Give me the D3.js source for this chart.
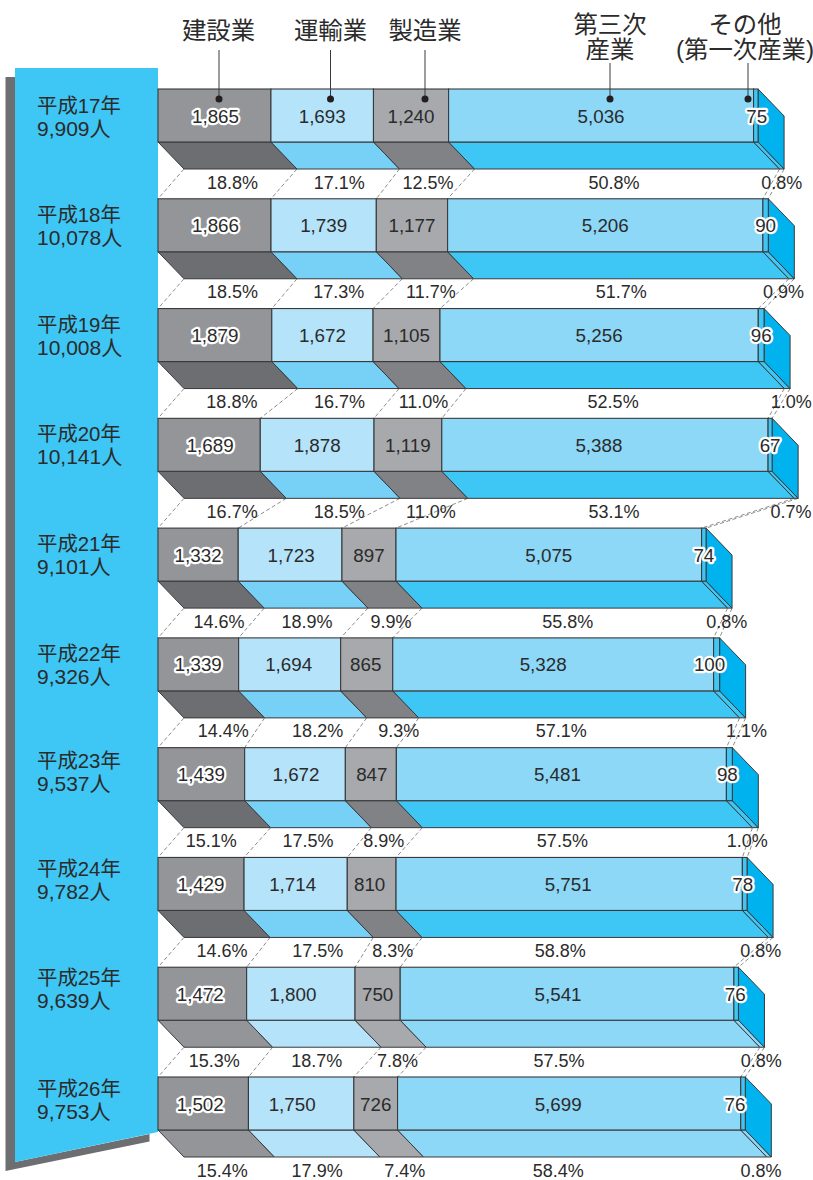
<!DOCTYPE html>
<html>
<head>
<meta charset="utf-8">
<script src="https://cdn.jsdelivr.net/npm/d3@7"></script>
<style>
body{margin:0;background:#fff}
text{font-family:"Liberation Sans","Noto Sans CJK JP",sans-serif;fill:#2b2b2b}
</style>
</head>
<body>
<script>
// values
const years = ['平成17年','平成18年','平成19年','平成20年','平成21年','平成22年','平成23年','平成24年','平成25年','平成26年'];
const totals = ['9,909人','10,078人','10,008人','10,141人','9,101人','9,326人','9,537人','9,782人','9,639人','9,753人'];
const construction  = [1865,1866,1879,1689,1332,1339,1439,1429,1472,1502];
const transport     = [1693,1739,1672,1878,1723,1694,1672,1714,1800,1750];
const manufacturing = [1240,1177,1105,1119,897,865,847,810,750,726];
const tertiary      = [5036,5206,5256,5388,5075,5328,5481,5751,5541,5699];
const other         = [75,90,96,67,74,100,98,78,76,76];
const constructionPct  = ['18.8','18.5','18.8','16.7','14.6','14.4','15.1','14.6','15.3','15.4'];
const transportPct     = ['17.1','17.3','16.7','18.5','18.9','18.2','17.5','17.5','18.7','17.9'];
const manufacturingPct = ['12.5','11.7','11.0','11.0','9.9','9.3','8.9','8.3','7.8','7.4'];
const tertiaryPct      = ['50.8','51.7','52.5','53.1','55.8','57.1','57.5','58.8','57.5','58.4'];
const otherPct         = ['0.8','0.9','1.0','0.7','0.8','1.1','1.0','0.8','0.8','0.8'];

const series = [construction, transport, manufacturing, tertiary, other];
const pcts = [constructionPct, transportPct, manufacturingPct, tertiaryPct, otherPct];

// styles and hand placed label offsets
const frontColors = ['#939598','#b5e3fa','#a7a9ac','#8dd7f7','#3ec6f4'];
const floorDark   = ['#6d6e71','#77d0f5','#808285','#3ec6f4','#3ec6f4'];
const floorLight  = ['#939598','#b5e3fa','#a7a9ac','#8dd7f7','#8dd7f7'];
const sideColor = '#00b3ee';
const halo = [true,false,false,false,true];
const valueNudge = [
  [1,0,0,0,1],[1,0,0,0,0],[0,0,0,0,0],[1,0,0,-6,0],[0,1,0,0,0],
  [0,-1,-1,-10,-7],[0,1,1,-4,-2],[0,-3,-2,-1,-2],[-2,-8,0,-9,-1],[-3,-9,0,-11,-8]
];
const pctNudge = [
  [18,17,17,13,26],[18,15,19,16,18],[17,17,17,14,30],[23,22,23,9,21],[21,17,22,19,23],
  [25,28,32,8,30],[10,13,13,1,18],[21,22,21,-9,16],[12,16,20,-8,25],[19,16,29,-11,18]
];
const yearNudge = [1,0,0,0,0,0,-3,-4,-5,-4];

const width = 813, height = 1180;
const depthX = 26, depthY = 27, frontH = 53;

// the first four rows are drawn a little wider in the original
const xUpper = d3.scaleLinear().domain([0,10000]).range([158,763.6]);
const xLower = d3.scaleLinear().domain([0,10000]).range([158,760.2]);
const xFor = row => row < 4 ? xUpper : xLower;
const y = d3.scalePoint().domain(years).range([89,1077]);

const svg = d3.select('body').append('svg')
  .attr('width', width)
  .attr('height', height)
  .style('display','block');

// banner on the left
const poly = d3.line();
svg.append('path')
  .attr('d', poly([[5.5,77],[15,77],[15,1162],[149.5,1134],[149.5,1141.5],[5.5,1171]]) + 'Z')
  .attr('fill', '#6d6e71');
svg.append('path')
  .attr('d', poly([[15,68],[158,68],[158,1132],[15,1162]]) + 'Z')
  .attr('fill', '#3ec6f4');

const edges = series[0].map((_, row) => {
  let sum = 0;
  const e = [0];
  series.forEach(s => { sum += s[row]; e.push(sum); });
  return e;
});

// dashed lines from one row's floor to the next row's front
const dashes = svg.append('g');
years.slice(0,-1).forEach((yr, row) => {
  edges[row].forEach((v, k) => {
    dashes.append('line')
      .attr('x1', xFor(row)(v) + depthX)
      .attr('y1', y(yr) + frontH + depthY)
      .attr('x2', xFor(row+1)(edges[row+1][k]))
      .attr('y2', y(years[row+1]))
      .attr('stroke', '#6d6e71')
      .attr('stroke-width', 0.8)
      .attr('stroke-dasharray', '4,2.5');
  });
});

years.forEach((yr, row) => {
  const top = y(yr);
  const g = svg.append('g');
  const e = edges[row];
  const x = xFor(row);
  const floors = row >= 8 ? floorLight : floorDark;
  const edge = '#3a3a3c';

  // floor
  series.forEach((s, k) => {
    const a = x(e[k]), b = x(e[k+1]);
    g.append('path')
      .attr('d', poly([[a,top+frontH],[b,top+frontH],[b+depthX,top+frontH+depthY],[a+depthX,top+frontH+depthY]]) + 'Z')
      .attr('fill', floors[k])
      .attr('stroke', edge)
      .attr('stroke-width', 1);
  });

  // side of the block
  const end = x(e[5]);
  g.append('path')
    .attr('d', poly([[end,top],[end+depthX,top+depthY],[end+depthX,top+frontH+depthY],[end,top+frontH]]) + 'Z')
    .attr('fill', sideColor)
    .attr('stroke', edge)
    .attr('stroke-width', 1);

  // front
  g.selectAll('rect')
    .data(series)
    .enter()
    .append('rect')
    .attr('x', (d,k) => x(e[k]))
    .attr('y', top)
    .attr('width', (d,k) => x(e[k+1]) - x(e[k]))
    .attr('height', frontH)
    .attr('fill', (d,k) => frontColors[k])
    .attr('stroke', edge)
    .attr('stroke-width', 1.1);

  // value labels
  series.forEach((s, k) => {
    const mid = (x(e[k]) + x(e[k+1])) / 2;
    const t = g.append('text')
      .attr('x', mid + valueNudge[row][k])
      .attr('y', top + 33.5)
      .attr('text-anchor', 'middle')
      .attr('font-size', 18.8)
      .text(d3.format(',')(s[row]));
    if (halo[k]) {
      t.style('paint-order','stroke')
        .attr('stroke','#fff')
        .attr('stroke-width',4.5)
        .attr('stroke-linejoin','round');
    }
    svg.append('text')
      .attr('x', mid + pctNudge[row][k])
      .attr('y', top + 99.5)
      .attr('text-anchor', 'middle')
      .attr('font-size', 18)
      .text(pcts[k][row] + '%');
  });

  svg.append('text')
    .attr('x', 37)
    .attr('y', top + 23 + yearNudge[row])
    .attr('font-size', 20.4)
    .text(yr);
  svg.append('text')
    .attr('x', 37)
    .attr('y', top + 46 + yearNudge[row])
    .attr('font-size', 21)
    .text(totals[row]);
});

// headers with leader lines
const headers = [
  {lines:['建設業'], x:218.5, ys:[39], from:50, lead:219},
  {lines:['運輸業'], x:330.5, ys:[39], from:50, lead:330.5},
  {lines:['製造業'], x:425, ys:[39], from:50, lead:425},
  {lines:['第三次','産業'], x:610, ys:[33,58], from:63, lead:610},
  {lines:['その他','(第一次産業)'], x:745, ys:[33,58], from:63, lead:748}
];
headers.forEach(h => {
  h.lines.forEach((l,i) => {
    svg.append('text')
      .attr('x', h.x)
      .attr('y', h.ys[i])
      .attr('text-anchor','middle')
      .attr('font-size', 24.4)
      .text(l);
  });
  svg.append('line')
    .attr('x1', h.lead).attr('x2', h.lead)
    .attr('y1', h.from).attr('y2', 99)
    .attr('stroke', '#3a3a3c')
    .attr('stroke-width', 1);
  svg.append('circle')
    .attr('cx', h.lead)
    .attr('cy', 99)
    .attr('r', 3.5)
    .attr('fill', '#231f20');
});
</script>
</body>
</html>
